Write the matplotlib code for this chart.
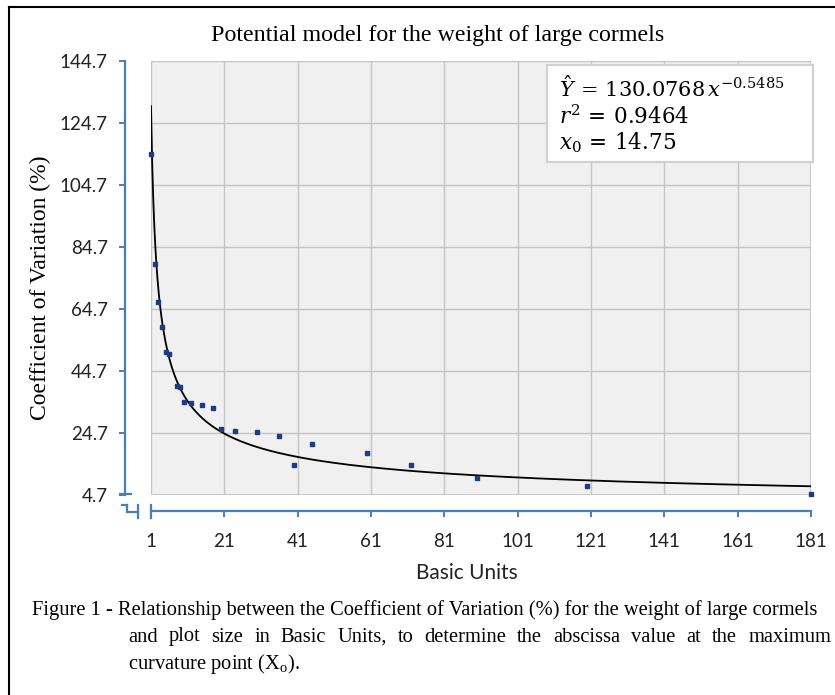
import numpy as np
import matplotlib
matplotlib.use("Agg")
import matplotlib.pyplot as plt
from matplotlib.lines import Line2D
from matplotlib.patches import Rectangle

# data
basic_units = [1, 2, 3, 4, 5, 6, 8, 9, 10, 12, 15, 18, 20, 24, 30, 36, 40, 45, 60, 72, 90, 120, 181]
cv_values = [114.6, 79.1, 66.9, 59.0, 50.9, 50.2, 39.8, 39.4, 34.7, 34.3, 33.7, 32.7,
             25.9, 25.3, 24.9, 23.8, 14.5, 21.0, 18.2, 14.5, 10.3, 7.5, 5.1]

# fitted model shown in the box
coef_a = 130.0768
coef_b = -0.5485
r2 = 0.9464
x0 = 14.75

y_ticks = [4.7, 24.7, 44.7, 64.7, 84.7, 104.7, 124.7, 144.7]
x_ticks = [1, 21, 41, 61, 81, 101, 121, 141, 161, 181]

W, H = 835, 695
blue = "#4a7ebb"
serif = "Liberation Serif"
sans = "Lato"
plt.rcParams["mathtext.fontset"] = "dejavuserif"

fig = plt.figure(figsize=(W / 100, H / 100), dpi=100)

def fx(px):
    return px / W

def fy(py):
    return 1 - py / H

ax = fig.add_axes([fx(151), fy(495), fx(811) - fx(151), fy(60.7) - fy(495)])
ax.set_facecolor("#f0f0f0")

xx = np.linspace(1, 181, 600)
ax.plot(xx, coef_a * xx ** coef_b, color="black", lw=1.3, zorder=3)
ax.plot(basic_units, cv_values, "s", color="#1f3c7c", ms=3.2, zorder=4, clip_on=False)

ax.set_xlim(1, 181)
ax.set_ylim(4.7, 144.7)
ax.set_xticks(x_ticks)
ax.set_yticks(y_ticks)
ax.set_yticklabels(["%.1f" % v for v in y_ticks])
ax.grid(True, color="#c4c4c4", lw=1.0)
ax.set_axisbelow(True)

for s in ["top", "right"]:
    ax.spines[s].set_visible(False)
ax.spines["left"].set_position(("outward", 18.7))
ax.spines["bottom"].set_position(("outward", 11.5))
for s in ["left", "bottom"]:
    ax.spines[s].set_color(blue)
    ax.spines[s].set_linewidth(1.6)
ax.tick_params(axis="both", colors=blue, length=4, width=1.4, labelcolor="#222222")
ax.tick_params(axis="y", pad=8.5)
ax.tick_params(axis="x", pad=12)
for lab in ax.get_xticklabels() + ax.get_yticklabels():
    lab.set_fontfamily(sans)
    lab.set_fontsize(13.5)

# plot area frame
ax.add_patch(Rectangle((0, 0), 1, 1, transform=ax.transAxes, fill=False,
                       ec="#c4c4c4", lw=1.2, zorder=2))

# axis break marks
def seg(x1, y1, x2, y2, c=blue, lw=1.6):
    fig.add_artist(Line2D([fx(x1), fx(x2)], [fy(y1), fy(y2)], color=c, lw=lw))

seg(120, 494.3, 131, 494.3)
seg(121.7, 505, 126.7, 505)
seg(126.7, 505, 126.7, 511.5)
seg(126.7, 511.5, 137.5, 511.5)
seg(137.5, 505, 137.5, 518)
seg(151, 505, 151, 518)

# outer frame
seg(9, 7, 9, H + 5, c="black", lw=1.5)
seg(9, 7, W + 5, 7, c="black", lw=1.5)

fig.text(fx(437.5), fy(36), "Potential model for the weight of large cormels",
         family=serif, fontsize=17.3, ha="center", va="center")
fig.text(fx(40), fy(288), "Coefficient of Variation (%)", family=serif, fontsize=17,
         rotation=90, ha="center", va="center")
fig.text(fx(467), fy(573), "Basic Units", family=sans, fontsize=15, ha="center",
         va="center", color="#222222")

# equation box
fig.add_artist(Rectangle((fx(547), fy(162)), fx(813) - fx(547), fy(65) - fy(162),
                         transform=fig.transFigure, fc="white", ec="#d0d0d0", lw=1.5))
fig.text(fx(559), fy(88), r"$\hat{Y}\,=\,%s\,x^{%s}$" % (coef_a, coef_b),
         fontsize=15, va="center", ha="left")
fig.text(fx(559), fy(116), r"$r^2\,=\,%s$" % r2, fontsize=15.5, va="center", ha="left")
fig.text(fx(559), fy(143), r"$x_0\,=\,%s$" % x0, fontsize=15.5, va="center", ha="left")

# caption, second line justified
cap_size = 14.8
fig.text(fx(32), fy(610), "Figure 1 - Relationship between the Coefficient of Variation (%) "
         "for the weight of large cormels", family=serif, fontsize=cap_size, va="center")
words = "and plot size in Basic Units, to determine the abscissa value at the maximum".split()
renderer = fig.canvas.get_renderer()
texts = [fig.text(0, fy(637), w, family=serif, fontsize=cap_size, va="center") for w in words]
widths = [t.get_window_extent(renderer).width for t in texts]
left, right = 128, 831
gap = (right - left - sum(widths)) / (len(words) - 1)
pos = left
for t, w in zip(texts, widths):
    t.set_x(fx(pos))
    pos += w + gap
fig.text(fx(128), fy(664), r"curvature point (X$_{\mathregular{o}}$).", family=serif,
         fontsize=cap_size, va="center")

fig.savefig("out.png", dpi=100)
